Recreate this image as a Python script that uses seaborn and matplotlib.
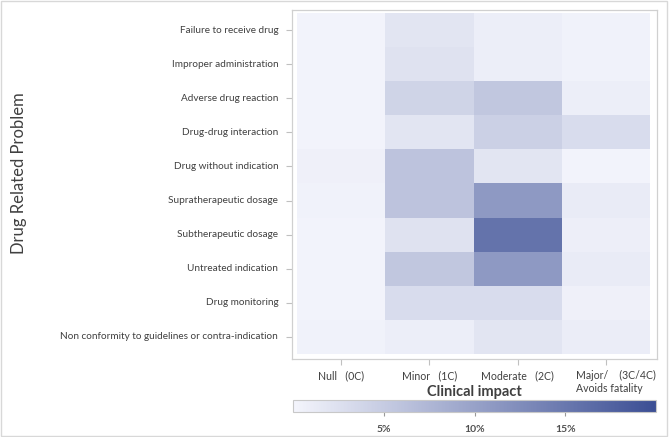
import numpy as np
import pandas as pd
import matplotlib
matplotlib.use('Agg')
import matplotlib.pyplot as plt
import matplotlib.transforms as mtransforms
import seaborn as sns
from matplotlib.colors import LinearSegmentedColormap
from matplotlib.patches import Rectangle

problems = ['Failure to receive drug', 'Improper administration', 'Adverse drug reaction',
            'Drug-drug interaction', 'Drug without indication', 'Supratherapeutic dosage',
            'Subtherapeutic dosage', 'Untreated indication', 'Drug monitoring',
            'Non conformity to guidelines or contra-indication']
impact = ['Null   (0C)', 'Minor   (1C)', 'Moderate   (2C)', 'Major/    (3C/4C)\nAvoids fatality']

null_c = [0.3, 0.3, 0.3, 0.3, 0.6, 0.4, 0.3, 0.3, 0.3, 0.4]
minor_c = [2.0, 2.3, 4.0, 2.0, 6.0, 6.0, 2.3, 5.5, 3.0, 0.9]
moderate_c = [0.9, 0.9, 5.5, 4.5, 2.0, 11.0, 15.5, 11.0, 3.0, 2.0]
major_c = [0.4, 0.4, 0.9, 3.0, 0.3, 1.2, 0.8, 1.2, 0.6, 1.0]

df = pd.DataFrame({impact[0]: null_c, impact[1]: minor_c,
                   impact[2]: moderate_c, impact[3]: major_c}, index=problems)

cmap = LinearSegmentedColormap.from_list('blues', ['#f4f5fc', '#3b4e94'])
txt = '#404040'
plt.rcParams['font.family'] = ['Lato', 'DejaVu Sans']

fig = plt.figure(figsize=(6.69, 4.37), dpi=100)
ax = fig.add_axes([0.4365, 0.1785, 0.5456, 0.7986])
cax = fig.add_axes([0.438, 0.057, 0.543, 0.027])

sns.heatmap(df, ax=ax, cmap=cmap, vmin=0, vmax=20, cbar_ax=cax,
            cbar_kws={'orientation': 'horizontal', 'ticks': [5, 10, 15]})
# small padding between the frame and the cells
ax.set_xlim(-0.057, 4.079)
ax.set_ylim(10.147, -0.088)

for s in ax.spines.values():
    s.set_visible(True)
    s.set_color('#d0d0d0')
    s.set_linewidth(0.9)

ax.tick_params(axis='y', length=4, color='#c0c0c0', labelsize=7.2, labelcolor=txt, pad=6)
ax.tick_params(axis='x', length=4, color='#c0c0c0', labelsize=7.6, labelcolor=txt, pad=4)
ax.set_yticklabels(problems, rotation=0)
ax.set_xticklabels(impact, rotation=0, va='top')
lbls = ax.get_xticklabels()
lbls[3].set_multialignment('left')
lbls[3].set_transform(lbls[3].get_transform() +
                      mtransforms.ScaledTranslation(10 / 100, 0, fig.dpi_scale_trans))

ax.set_ylabel('Drug Related Problem', fontsize=12, color=txt)
ax.yaxis.set_label_coords(-0.727, 0.533)
ax.set_xlabel('Clinical impact', fontsize=10.5, fontweight='bold', color=txt, va='center')
ax.xaxis.set_label_coords(0.5, -0.095)

cbar = ax.collections[0].colorbar
cbar.outline.set_edgecolor('#c8c8c8')
cbar.outline.set_linewidth(0.8)
cbar.set_ticklabels(['5%', '10%', '15%'])
cax.tick_params(length=3, color='#999999', labelsize=7.5, labelcolor='#505050', pad=6)
for t in cax.get_xticklabels():
    t.set_fontweight('bold')

fig.patches.append(Rectangle((0.002, 0.003), 0.995, 0.994, transform=fig.transFigure,
                             fill=False, edgecolor='#d8d8d8', linewidth=1))

fig.savefig('out.png', dpi=100)
